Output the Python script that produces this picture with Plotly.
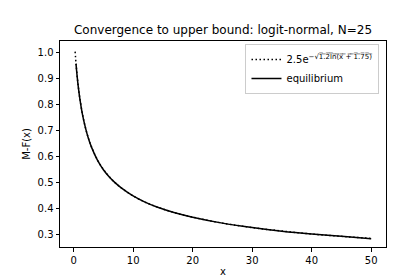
import plotly.graph_objects as go

# values
bound_x = [0.25, 0.4, 0.6, 0.8, 1, 1.5, 2, 2.5, 3, 4, 5, 6, 7, 8, 10, 12, 14, 17, 20, 25, 30, 35, 40, 45, 50]
bound_y = [1.004, 0.959, 0.908, 0.866, 0.831, 0.761, 0.7095, 0.669, 0.637, 0.587, 0.550, 0.5215, 0.498,
           0.479, 0.448, 0.424, 0.4055, 0.383, 0.366, 0.343, 0.326, 0.3125, 0.301, 0.292, 0.284]

eq_x = [0.4, 0.6, 0.8, 1, 1.5, 2, 2.5, 3, 4, 5, 6, 7, 8, 10, 12, 14, 17, 20, 25, 30, 35, 40, 45, 50]
eq_y = [0.957, 0.907, 0.865, 0.830, 0.760, 0.709, 0.668, 0.636, 0.586, 0.549, 0.521, 0.498,
        0.479, 0.448, 0.424, 0.405, 0.383, 0.366, 0.343, 0.326, 0.312, 0.301, 0.292, 0.283]

x_ticks = [0, 10, 20, 30, 40, 50]
y_ticks = [0.3, 0.4, 0.5, 0.6, 0.7, 0.8, 0.9, 1.0]

font = "DejaVu Sans"

radicand = "1.2ln(x + 1.75)"
overlined = "".join(ch + "\u0305" for ch in radicand)
bound_name = "2.5e<sup>−√" + overlined + "</sup>"

fig = go.Figure()
fig.add_trace(go.Scatter(
    x=bound_x, y=bound_y, mode="lines",
    line=dict(color="black", width=1.5, dash="1.5px,2.5px", shape="spline"),
    name=bound_name))
fig.add_trace(go.Scatter(
    x=eq_x, y=eq_y, mode="lines", line=dict(color="black", width=1.5, shape="spline"),
    name="equilibrium"))

axis_common = dict(showline=True, linecolor="black", linewidth=1, mirror=True, ticks="outside",
                   ticklen=3.5, tickwidth=1, tickcolor="black", showgrid=False, zeroline=False,
                   tickfont=dict(family=font, size=10, color="black"))

fig.update_layout(
    width=420, height=280,
    margin=dict(l=52, r=42, t=33, b=36),
    paper_bgcolor="white", plot_bgcolor="white",
    font=dict(family=font, size=10, color="black"),
    title=dict(text="Convergence to upper bound: logit-normal, N=25", x=0.5, xref="paper",
               y=1 - 22 / 280, yref="container", yanchor="middle",
               font=dict(family=font, size=12, color="black")),
    xaxis=dict(range=[-2.29, 52.49], tickvals=x_ticks,
               title=dict(text="x", font=dict(family=font, size=10), standoff=3), **axis_common),
    yaxis=dict(range=[0.251, 1.045], tickvals=y_ticks, tickformat=".1f",
               title=dict(text="M-F(x)", font=dict(family=font, size=10), standoff=5), **axis_common),
    legend=dict(x=0.98, y=0.985, xanchor="right", yanchor="top", bgcolor="white",
                bordercolor="#cccccc", borderwidth=1, font=dict(family=font, size=10),
                tracegroupgap=0, itemwidth=30),
    showlegend=True,
)

fig.write_html("out.html")
